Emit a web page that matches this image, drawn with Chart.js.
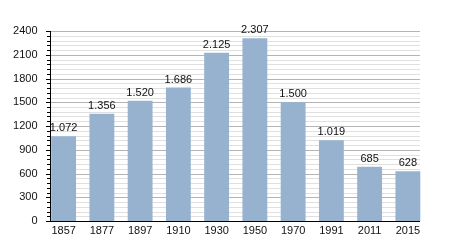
<!DOCTYPE html>
<html><head><meta charset="utf-8">
<script src="https://cdn.jsdelivr.net/npm/chart.js@4/dist/chart.umd.min.js"></script>
<style>html,body{margin:0;padding:0;background:#fff}#wrap{width:450px;height:250px}</style>
</head><body><div id="wrap"><canvas id="c" width="450" height="250"></canvas></div>
<script>
const years = ['1857','1877','1897','1910','1930','1950','1970','1991','2011','2015'];
const population = [1072,1356,1520,1686,2125,2307,1500,1019,685,628];
const valueLabels = ['1.072','1.356','1.520','1.686','2.125','2.307','1.500','1.019','685','628'];
const yMax = 2400, majorStep = 300, minorStep = 60;

const AX_X = 50, GRID_RIGHT = 420;
const gridPlugin = {
  id: 'grid',
  beforeDatasetsDraw(chart) {
    const ctx = chart.ctx, y = chart.scales.y;
    ctx.save();
    for (let v = 0; v <= yMax; v += minorStep) {
      const py = Math.round(y.getPixelForValue(v)) + 0.5;
      const major = v % majorStep === 0;
      ctx.strokeStyle = major ? '#b4b4b4' : '#e0e0e0';
      ctx.lineWidth = 1;
      ctx.beginPath(); ctx.moveTo(AX_X, py); ctx.lineTo(GRID_RIGHT, py); ctx.stroke();
    }
    ctx.restore();
  },
  afterDatasetsDraw(chart) {
    const ctx = chart.ctx, y = chart.scales.y;
    ctx.save();
    ctx.strokeStyle = '#000'; ctx.lineWidth = 1;
    const top = y.getPixelForValue(yMax), bot = Math.round(y.getPixelForValue(0)) + 0.5;
    ctx.beginPath(); ctx.moveTo(AX_X + 0.5, top); ctx.lineTo(AX_X + 0.5, bot); ctx.stroke();
    ctx.beginPath(); ctx.moveTo(AX_X - 3, bot); ctx.lineTo(GRID_RIGHT, bot); ctx.stroke();
    for (let v = 0; v <= yMax; v += minorStep) {
      const py = Math.round(y.getPixelForValue(v)) + 0.5;
      const major = v % majorStep === 0;
      ctx.beginPath(); ctx.moveTo(AX_X - (major ? 4 : 3), py); ctx.lineTo(AX_X, py); ctx.stroke();
    }
    ctx.fillStyle = '#111';
    ctx.font = '11px "Liberation Sans", Arial, sans-serif';
    ctx.textAlign = 'center'; ctx.textBaseline = 'alphabetic';
    const meta = chart.getDatasetMeta(0);
    meta.data.forEach((bar, i) => {
      ctx.fillText(valueLabels[i], bar.x, bar.y - 5);
    });
    ctx.restore();
  }
};

new Chart(document.getElementById('c'), {
  type: 'bar',
  data: { labels: years, datasets: [{ data: population, backgroundColor: '#97b2cf', borderWidth: 0,
    barPercentage: 0.65, categoryPercentage: 1 }] },
  options: {
    responsive: false, animation: false, devicePixelRatio: 1,
    layout: { padding: { top: 31, right: 23, left: 0, bottom: 0 } },
    plugins: { legend: { display: false }, tooltip: { enabled: false } },
    scales: {
      x: {
        grid: { display: false, drawTicks: false }, border: { display: false },
        ticks: { color: '#111', font: { family: '"Liberation Sans", Arial, sans-serif', size: 11 }, padding: 3, maxRotation: 0 },
        afterFit(s) { s.height = 29; }
      },
      y: {
        min: 0, max: yMax,
        grid: { display: false, drawTicks: false }, border: { display: false },
        ticks: { stepSize: majorStep, color: '#111', font: { family: '"Liberation Sans", Arial, sans-serif', size: 11 }, padding: 7,
          callback: v => String(v) },
        afterFit(s) { s.width = 44.5; }
      }
    }
  },
  plugins: [gridPlugin]
});
</script>
</body></html>
